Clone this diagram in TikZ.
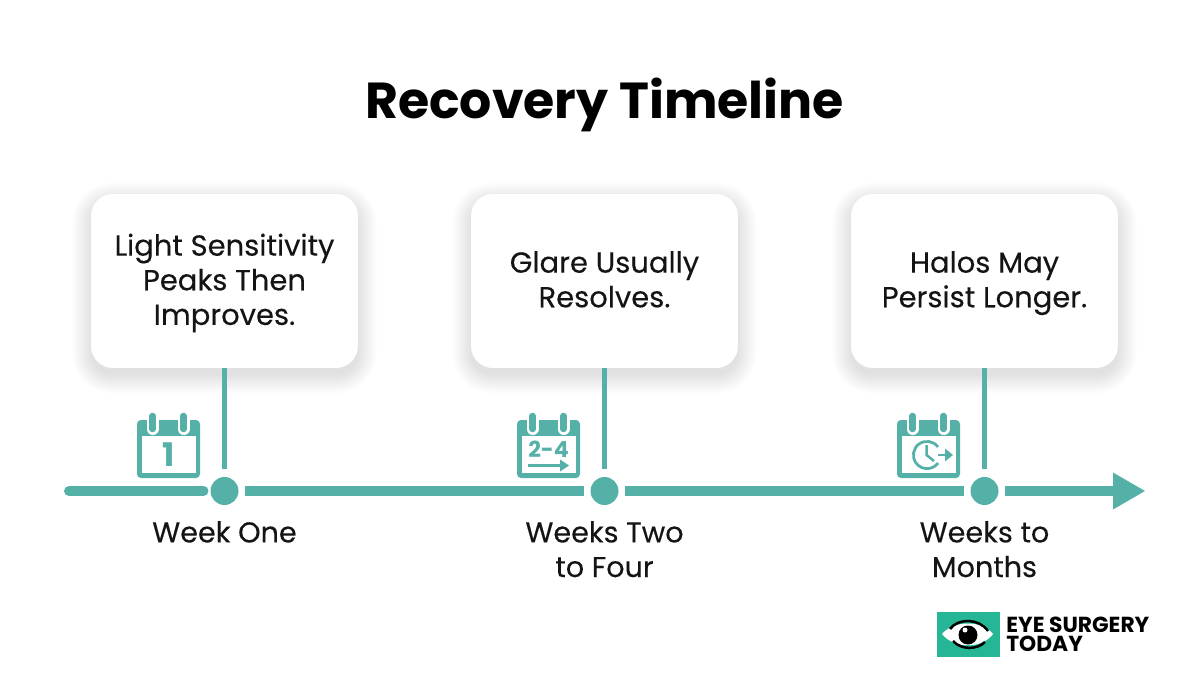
\documentclass[tikz,border=0pt]{standalone}
\usepackage{fontspec}
\setmainfont{Poppins}[FakeBold=0.2,BoldFeatures={FakeBold=0}]
\usetikzlibrary{calc}
\definecolor{tealline}{HTML}{55B1A8}
\definecolor{logogreen}{HTML}{25B795}
\definecolor{inktext}{HTML}{141414}
\tikzset{
  x=0.02cm,y=-0.02cm,
  card/.style={fill=white,rounded corners=0.44cm,minimum width=5.34cm,minimum height=3.48cm,align=center,
    text=inktext,text depth=2pt,font=\fontsize{16.5}{19.7}\selectfont},
  dot/.style={circle,fill=tealline,minimum size=0.56cm,inner sep=0pt},
  axis/.style={draw=tealline,line width=0.2cm},
  stem/.style={draw=tealline,line width=0.09cm},
  when/.style={align=center,text=inktext,anchor=north,font=\fontsize{16.3}{19.7}\selectfont},
  calicon/.pic={
    \fill[tealline,rounded corners=0.08cm] (-31.5,-29) rectangle (31.5,29);
    \fill[white] (-27,-13) rectangle (27,24);
    \foreach \i in {-16,15}{
      \draw[white,line width=0.24cm,line cap=round] (\i,-32) -- (\i,-20);
      \draw[tealline,line width=0.13cm,line cap=round] (\i,-33) -- (\i,-20);
    }
  }
}
\begin{document}
\begin{tikzpicture}
  \useasboundingbox (0,0) rectangle (1200,675);

  %% title
  \node[font=\fontsize{28.8}{34}\selectfont\bfseries,text=black] (title) at (604.5,105) {Recovery Timeline};

  %% soft shadows under the cards
  \foreach \cx in {224.5,604.5,984.5}{
    \foreach \s in {18,16,14,12,10,8,6,4,2,0}{
      \fill[black,opacity=0.012,rounded corners=\s*0.02cm+0.44cm]
        ($(\cx,288)+(-134-\s,-87-\s)$) rectangle ($(\cx,288)+(134+\s,87+\s)$);
    }
  }

  %% cards
  \node[card] (card1) at (224.5,281) {Light Sensitivity\\Peaks Then\\Improves.};
  \node[card] (card2) at (604.5,281) {Glare Usually\\Resolves.};
  \node[card] (card3) at (984.5,281) {Halos May\\Persist Longer.};

  %% dots on the time axis
  \node[dot] (dot1) at (224.5,491) {};
  \node[dot] (dot2) at (604.5,491) {};
  \node[dot] (dot3) at (984.5,491) {};

  \coordinate (start) at (69,491);
  \coordinate (tail) at (1114,491);
  \coordinate (tip) at (1145,491);
  \coordinate (stop1) at (224.5,469);
  \coordinate (stop2) at (604.5,469);
  \coordinate (stop3) at (984.5,469);

  %% axis, broken round each dot
  \draw[axis,line cap=round] (start) -- ($(dot1)+(-21,0)$);
  \draw[axis] ($(dot1)+(20.5,0)$) -- ($(dot2)+(-21,0)$);
  \draw[axis] ($(dot2)+(20.5,0)$) -- ($(dot3)+(-21,0)$);
  \draw[axis] ($(dot3)+(20.5,0)$) -- (tail);
  \fill[tealline] (1113,472.5) -- (tip) -- (1113,509.5) -- cycle;

  %% stems
  \draw[stem] (card1.south) -- (stop1);
  \draw[stem] (card2.south) -- (stop2);
  \draw[stem] (card3.south) -- (stop3);

  %% calendars
  \pic at (168.5,449) {calicon};
  \pic at (548.5,449) {calicon};
  \pic at (928.5,449) {calicon};
  \node[text=tealline,font=\fontsize{18.5}{18}\selectfont\bfseries] (one) at (168.5,455) {1};
  \node[text=tealline,font=\fontsize{12.6}{14}\selectfont\bfseries] (range) at (548.5,449) {2-4};
  \coordinate (runA) at (528,465.5);
  \coordinate (runB) at (561,465.5);
  \draw[tealline,line width=0.05cm] (runA) -- (runB);
  \fill[tealline] (560,459.5) -- (569,465.5) -- (560,471.5) -- cycle;
  \coordinate (clock) at (927,455);
  \draw[tealline,line width=0.055cm] ($(clock)+(11,-8)$) arc (-36:-324:13.6);
  \draw[tealline,line width=0.05cm] ($(clock)+(-0.5,-10)$) -- ($(clock)+(-0.5,0)$) -- ($(clock)+(7,6)$);
  \draw[tealline,line width=0.055cm] ($(clock)+(11,0)$) -- ($(clock)+(19,0)$);
  \fill[tealline] ($(clock)+(18,-6.5)$) -- ($(clock)+(26,0)$) -- ($(clock)+(18,6.5)$) -- cycle;

  %% captions
  \node[when] (week1) at (224.5,515) {Week One};
  \node[when] (week2) at (604.5,515) {Weeks Two\\to Four};
  \node[when] (week3) at (984.5,515) {Weeks to\\Months};

  %% logo
  \fill[logogreen] (937,612) rectangle (1000,657);
  \fill[white] (942,634) .. controls (954,620) and (982,620) .. (993,634)
     .. controls (982,649) and (954,649) .. (942,634) -- cycle;
  \draw[black,line width=0.05cm] (950,629) .. controls (958,618) and (979,618) .. (988,631);
  \draw[black,line width=0.05cm] (953,641) .. controls (961,650) and (977,650) .. (985,642);
  \fill[black] (968,635) circle (9.5);
  \fill[white] (965,630) circle (2.5);
  \node[anchor=north west,align=left,inner sep=0pt,text=black,
    font=\fontsize{12.4}{10.9}\selectfont\bfseries] (brand) at (1006,616.5) {EYE SURGERY\\TODAY};
\end{tikzpicture}
\end{document}
